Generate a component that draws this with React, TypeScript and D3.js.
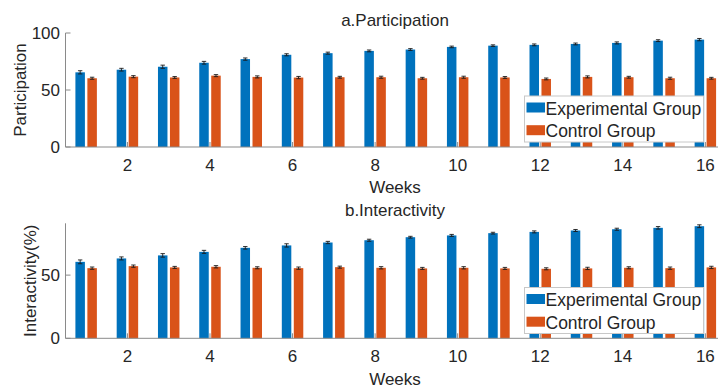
import React from "react";
import * as d3 from "d3";

// Weekly measurements for the two groups
const weeks = [1, 2, 3, 4, 5, 6, 7, 8, 9, 10, 11, 12, 13, 14, 15, 16];
const xTicks = [2, 4, 6, 8, 10, 12, 14, 16];

const participationExp = [65.5, 67.8, 70.4, 73.9, 77.1, 80.9, 82.3, 84.3, 85.5, 87.8, 88.9, 89.6, 90.4, 91.3, 93.3, 94.2];
const participationCtl = [60.3, 61.7, 61.0, 62.6, 61.5, 60.9, 61.2, 61.2, 60.3, 61.2, 61.0, 59.7, 61.5, 61.2, 60.3, 60.3];
const participationExpErr = [1.4, 1.2, 1.4, 1.2, 1.0, 0.9, 0.9, 0.8, 0.8, 0.7, 0.7, 0.8, 0.8, 0.9, 0.8, 1.0];
const participationCtlErr = [0.9, 0.9, 0.8, 0.9, 0.9, 1.0, 0.8, 0.9, 0.8, 0.9, 0.8, 0.8, 0.9, 0.8, 0.9, 0.8];
const participationTicks = [0, 50, 100];

const interactivityExp = [60.5, 63.2, 65.6, 68.4, 71.6, 73.5, 75.8, 77.6, 80.0, 81.4, 83.2, 84.2, 85.3, 86.3, 87.4, 88.7];
const interactivityCtl = [55.5, 57.1, 56.1, 56.6, 55.8, 55.5, 56.3, 55.8, 55.3, 55.8, 55.3, 55.0, 55.3, 55.8, 55.5, 56.1];
const interactivityExpErr = [1.5, 1.2, 1.4, 1.2, 1.0, 1.3, 0.9, 0.8, 0.7, 0.8, 0.7, 0.8, 0.8, 0.8, 1.0, 1.1];
const interactivityCtlErr = [0.9, 0.9, 0.8, 0.9, 0.8, 0.9, 0.8, 0.9, 0.8, 0.9, 0.8, 0.8, 0.9, 0.8, 0.9, 0.9];
const interactivityTicks = [0, 50];

const seriesNames = ["Experimental Group", "Control Group"];
const seriesColors = ["#0072BD", "#D95319"];

const FONT = "'Liberation Sans', Arial, Helvetica, sans-serif";
const TEXT = "#262626";
const AXIS = "#8a8a8a";
const FS = 17;

type PanelProps = {
  title: string;
  yLabel: string;
  exp: number[];
  ctl: number[];
  expErr: number[];
  ctlErr: number[];
  yMax: number;
  yTicks: number[];
  top: number; // pixel y of yMax
  bottom: number; // pixel y of 0
  titleY: number;
  xTickY: number;
  xLabelY: number;
  yLabelX: number;
  legendTop: number;
};

const x = d3.scaleLinear().domain([0.5, 16.5]).range([65.5, 726]);
const left = 65.5;
const barW = x(0.23) - x(0);
const offset = x(0.145) - x(0);

function Panel(p: PanelProps) {
  const y = d3.scaleLinear().domain([0, p.yMax]).range([p.bottom, p.top]);
  const series = [
    { vals: p.exp, errs: p.expErr, dx: -offset, color: seriesColors[0] },
    { vals: p.ctl, errs: p.ctlErr, dx: offset, color: seriesColors[1] },
  ];
  const midX = 395;
  const legX = 524.5;
  const legW = 179;
  const legH = 46;
  return (
    <g fontFamily={FONT} fill={TEXT}>
      {/* bars */}
      {series.map((s, si) =>
        weeks.map((w, i) => {
          const bx = x(w) + s.dx - barW / 2;
          return (
            <rect
              key={`b${si}-${i}`}
              x={bx}
              y={y(s.vals[i])}
              width={barW}
              height={y(0) - y(s.vals[i])}
              fill={s.color}
            />
          );
        })
      )}
      {/* error bars */}
      {series.map((s, si) =>
        weeks.map((w, i) => {
          const c = x(w) + s.dx;
          const y1 = y(s.vals[i] + s.errs[i]);
          const y2 = y(s.vals[i] - s.errs[i]);
          return (
            <g key={`e${si}-${i}`} stroke="#1a1a1a" strokeWidth={0.9}>
              <line x1={c} x2={c} y1={y1} y2={y2} />
              <line x1={c - 2.2} x2={c + 2.2} y1={y1} y2={y1} />
              <line x1={c - 2.2} x2={c + 2.2} y1={y2} y2={y2} />
            </g>
          );
        })
      )}
      {/* axes */}
      <line x1={left} x2={x(16.5)} y1={p.bottom} y2={p.bottom} stroke={AXIS} strokeWidth={1} />
      <line x1={left} x2={left} y1={p.top} y2={p.bottom} stroke={AXIS} strokeWidth={1} />
      {xTicks.map((t) => (
        <g key={`xt${t}`}>
          <line x1={x(t)} x2={x(t)} y1={p.bottom} y2={p.bottom - 5} stroke={AXIS} strokeWidth={1} />
          <text x={x(t)} y={p.xTickY} textAnchor="middle" fontSize={FS}>
            {t}
          </text>
        </g>
      ))}
      {p.yTicks.map((t) => (
        <g key={`yt${t}`}>
          <line x1={left} x2={left + 5} y1={y(t)} y2={y(t)} stroke={AXIS} strokeWidth={1} />
          <text x={left - 5.5} y={y(t)} dy="0.36em" textAnchor="end" fontSize={FS}>
            {t}
          </text>
        </g>
      ))}
      {/* titles */}
      <text x={midX} y={p.titleY} textAnchor="middle" fontSize={FS}>
        {p.title}
      </text>
      <text x={midX} y={p.xLabelY} textAnchor="middle" fontSize={FS}>
        Weeks
      </text>
      <text
        transform={`translate(${p.yLabelX},${(p.top + p.bottom) / 2}) rotate(-90)`}
        textAnchor="middle"
        fontSize={FS}
      >
        {p.yLabel}
      </text>
      {/* legend */}
      <g>
        <rect x={legX} y={p.legendTop} width={legW} height={legH} fill="#ffffff" stroke="#c8c8c8" strokeWidth={1} />
        {seriesNames.map((n, i) => (
          <g key={n}>
            <rect x={legX + 2} y={p.legendTop + 6.5 + i * 22.7} width={18.5} height={10} fill={seriesColors[i]} />
            <text x={legX + 21} y={p.legendTop + 18.5 + i * 22.7} fontSize={FS + 0.5}>
              {n}
            </text>
          </g>
        ))}
      </g>
    </g>
  );
}

export default function App() {
  return (
    <svg
      width={718}
      height={390}
      viewBox="0 0 718 390"
      style={{ position: "absolute", left: 0, top: 0, background: "#ffffff" }}
    >
      <rect width={718} height={390} fill="#ffffff" />
      <Panel
        title="a.Participation"
        yLabel="Participation"
        exp={participationExp}
        ctl={participationCtl}
        expErr={participationExpErr}
        ctlErr={participationCtlErr}
        yMax={100}
        yTicks={participationTicks}
        top={33}
        bottom={147}
        titleY={25.5}
        xTickY={171}
        xLabelY={192.5}
        yLabelX={26}
        legendTop={96}
      />
      <Panel
        title="b.Interactivity"
        yLabel="Interactivity(%)"
        exp={interactivityExp}
        ctl={interactivityCtl}
        expErr={interactivityExpErr}
        ctlErr={interactivityCtlErr}
        yMax={91}
        yTicks={interactivityTicks}
        top={223.3}
        bottom={338.3}
        titleY={216}
        xTickY={362}
        xLabelY={385}
        yLabelX={36}
        legendTop={287.5}
      />
    </svg>
  );
}
